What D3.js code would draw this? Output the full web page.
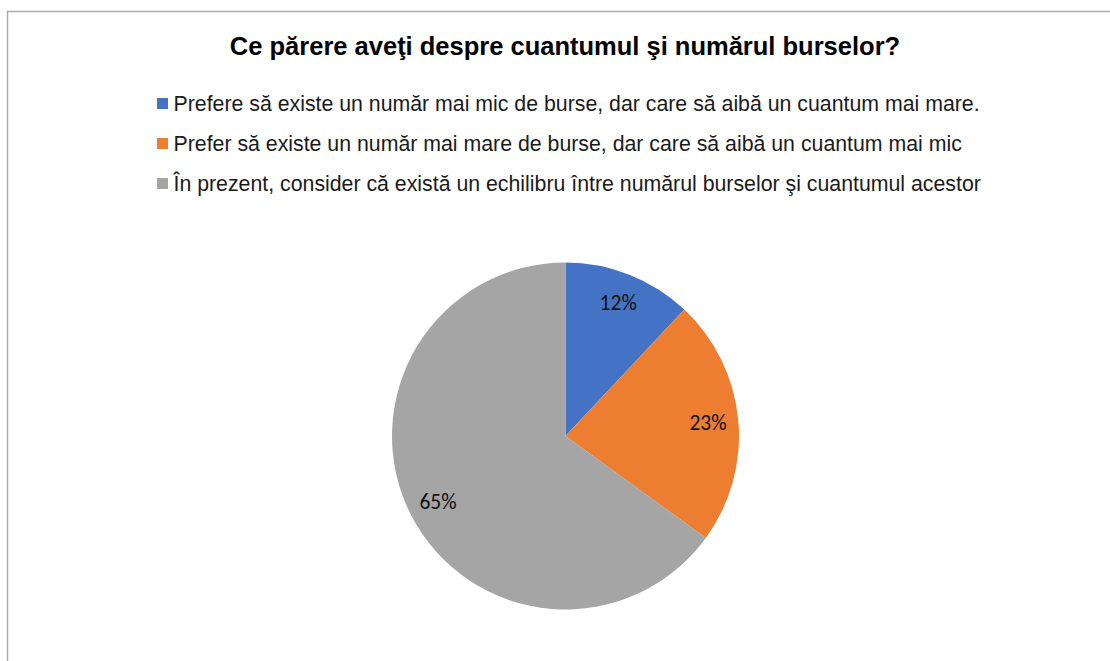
<!DOCTYPE html>
<html>
<head>
<meta charset="utf-8">
<script src="https://cdn.jsdelivr.net/npm/d3@7"></script>
<style>
  html, body { margin: 0; padding: 0; background: #fff; }
  svg { display: block; }
</style>
</head>
<body>
<svg id="chart" width="1110" height="661"></svg>
<script>
// Survey answers and their shares (percent)
const categories = [
  "Prefere să existe un număr mai mic de burse, dar care să aibă un cuantum mai mare.",
  "Prefer să existe un număr mai mare de burse, dar care să aibă un cuantum mai mic",
  "În prezent, consider că există un echilibru între numărul burselor şi cuantumul acestor"
];
const values = [12, 23, 65];
const colors = ["#4472C4", "#ED7D31", "#A5A5A5"];
const title = "Ce părere aveţi despre cuantumul şi numărul burselor?";

const svg = d3.select("#chart");
const W = 1110, H = 661;

// chart frame
svg.append("rect")
  .attr("x", 7.5).attr("y", 11.5)
  .attr("width", W + 10).attr("height", H + 10)
  .attr("fill", "#fff")
  .attr("stroke", "#ABABAB")
  .attr("stroke-width", 1.5);

// title
svg.append("text")
  .attr("x", 565).attr("y", 55)
  .attr("text-anchor", "middle")
  .attr("font-family", "Liberation Sans, Arial, sans-serif")
  .attr("font-weight", "bold")
  .attr("font-size", 25.5)
  .attr("fill", "#000")
  .text(title);

// legend
const legend = svg.append("g");
const rows = legend.selectAll("g").data(categories).enter().append("g")
  .attr("transform", (d, i) => `translate(157, ${103.5 + i * 40})`);
rows.append("rect")
  .attr("x", 0).attr("y", -5.5)
  .attr("width", 11).attr("height", 11)
  .attr("fill", (d, i) => colors[i]);
rows.append("text")
  .attr("x", 16.5).attr("y", 0)
  .attr("dy", "0.35em")
  .attr("font-family", "Liberation Sans, Arial, sans-serif")
  .attr("font-size", 21.3)
  .attr("fill", "#1a1a1a")
  .text(d => d);

// pie
const cx = 565.5, cy = 436, R = 173.5;
const pie = d3.pie().sort(null).value(d => d);
const arcs = pie(values);
const arc = d3.arc().innerRadius(0).outerRadius(R);
const labelArc = d3.arc().innerRadius(R * 0.825).outerRadius(R * 0.825);

const g = svg.append("g").attr("transform", `translate(${cx},${cy})`);
g.selectAll("path").data(arcs).enter().append("path")
  .attr("d", arc)
  .attr("fill", (d, i) => colors[i]);

g.selectAll("text.lbl").data(arcs).enter().append("text")
  .attr("class", "lbl")
  .attr("transform", d => `translate(${labelArc.centroid(d)})`)
  .attr("text-anchor", "middle")
  .attr("dy", "0.35em")
  .attr("font-family", "Carlito, Lato, sans-serif")
  .attr("font-size", 21.5)
  .attr("fill", "#111")
  .text(d => d.data + "%");
</script>
</body>
</html>
